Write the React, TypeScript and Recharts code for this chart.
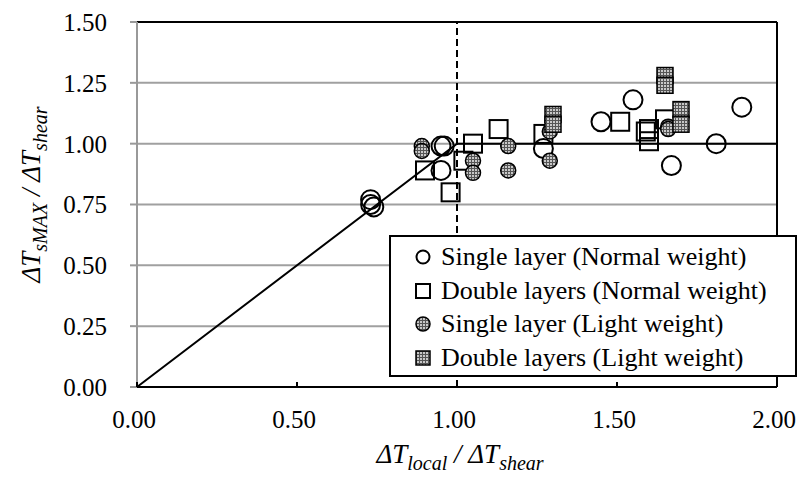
import { ScatterChart, Scatter, XAxis, YAxis, CartesianGrid, ReferenceLine, Legend } from "recharts";

const xTicks = [0, 0.5, 1, 1.5, 2];
const yTicks = [0, 0.25, 0.5, 0.75, 1, 1.25, 1.5];

// Single layer (Normal weight)
const singleNormalX = [0.73, 0.73, 0.74, 0.95, 0.96, 0.95, 1.27, 1.45, 1.55, 1.67, 1.81, 1.89];
const singleNormalY = [0.77, 0.75, 0.74, 0.99, 0.99, 0.89, 0.98, 1.09, 1.18, 0.91, 1.0, 1.15];

// Double layers (Normal weight)
const doubleNormalX = [0.9, 0.98, 1.02, 1.05, 1.13, 1.27, 1.51, 1.59, 1.6, 1.6, 1.65];
const doubleNormalY = [0.89, 0.8, 0.93, 1.0, 1.06, 1.04, 1.09, 1.05, 1.06, 1.01, 1.1];

// Single layer (Light weight)
const singleLightX = [0.89, 0.89, 1.05, 1.05, 1.16, 1.16, 1.29, 1.29, 1.66, 1.66];
const singleLightY = [0.99, 0.97, 0.93, 0.88, 0.99, 0.89, 1.05, 0.93, 1.07, 1.06];

// Double layers (Light weight)
const doubleLightX = [1.3, 1.3, 1.65, 1.65, 1.7, 1.7];
const doubleLightY = [1.12, 1.08, 1.28, 1.24, 1.14, 1.08];

// limit line: y = x up to 1, then flat at 1
const boundX = [0, 1, 2];
const boundY = [0, 1, 1];

const zip = (xs: number[], ys: number[]) => xs.map((x, i) => ({ x, y: ys[i] }));

const FONT = '"Liberation Serif", "Times New Roman", serif';

function OpenCircle({ cx, cy, r = 9.5 }: any) {
  return <circle cx={cx} cy={cy} r={r} fill="none" stroke="#000" strokeWidth={2} />;
}
function OpenSquare({ cx, cy, s = 18 }: any) {
  return <rect x={cx - s / 2} y={cy - s / 2} width={s} height={s} fill="none" stroke="#000" strokeWidth={2} />;
}
function FilledCircle({ cx, cy, r = 7.5 }: any) {
  return <circle cx={cx} cy={cy} r={r} fill="url(#lightFill)" stroke="#000" strokeWidth={1.5} />;
}
function FilledSquare({ cx, cy, s = 16 }: any) {
  return <rect x={cx - s / 2} y={cy - s / 2} width={s} height={s} fill="url(#lightFill)" stroke="#000" strokeWidth={1.5} />;
}

const SERIES = [
  { name: "Single layer (Normal weight)", data: zip(singleNormalX, singleNormalY), Mark: OpenCircle, icon: { r: 6.5, s: 13 } },
  { name: "Double layers (Normal weight)", data: zip(doubleNormalX, doubleNormalY), Mark: OpenSquare, icon: { r: 6.5, s: 14 } },
  { name: "Single layer (Light weight)", data: zip(singleLightX, singleLightY), Mark: FilledCircle, icon: { r: 7, s: 14 } },
  { name: "Double layers (Light weight)", data: zip(doubleLightX, doubleLightY), Mark: FilledSquare, icon: { r: 7, s: 14 } },
];

function XTick({ x, y, payload }: any) {
  return (
    <g>
      <line x1={x} y1={y} x2={x} y2={y - 5} stroke="#000" strokeWidth={2} />
      <text x={x - 3} y={y + 41} textAnchor="middle" fontSize={25} fontFamily={FONT} fill="#000">
        {Number(payload.value).toFixed(2)}
      </text>
    </g>
  );
}

function XTitle({ viewBox }: any) {
  const cx = viewBox ? viewBox.x + viewBox.width / 2 + 3 : 460;
  const y = viewBox ? viewBox.y + 76 : 463;
  return (
    <text x={cx} y={y} textAnchor="middle" fontFamily={FONT} fontStyle="italic" fontSize={27} fill="#000">
      ΔT
      <tspan dy={7} fontSize={20}>local</tspan>
      <tspan dy={-7}> / ΔT</tspan>
      <tspan dy={7} fontSize={20}>shear</tspan>
    </text>
  );
}

function YTitle({ viewBox }: any) {
  const x = viewBox ? viewBox.x + 40 : 40;
  const cy = viewBox ? viewBox.y + viewBox.height / 2 - 10 : 194;
  return (
    <text
      x={x}
      y={cy}
      transform={`rotate(-90 ${x} ${cy})`}
      textAnchor="middle"
      fontFamily={FONT}
      fontStyle="italic"
      fontSize={27}
      fill="#000"
    >
      ΔT
      <tspan dy={7} fontSize={20}>sMAX</tspan>
      <tspan dy={-7}> / ΔT</tspan>
      <tspan dy={7} fontSize={20}>shear</tspan>
    </text>
  );
}

function LegendBox() {
  return (
    <div
      style={{
        boxSizing: "border-box",
        width: 408,
        height: 142,
        border: "2px solid #000",
        background: "#fff",
        paddingTop: 3,
        fontFamily: FONT,
        fontSize: 26,
        color: "#000",
      }}
    >
      {SERIES.map(({ name, Mark, icon }) => (
        <div key={name} style={{ display: "flex", alignItems: "center", height: 33.7 }}>
          <svg width={20} height={20} style={{ marginLeft: 22, marginRight: 8, flex: "none" }}>
            <Mark cx={10} cy={10} r={icon.r} s={icon.s} />
          </svg>
          <span style={{ lineHeight: "30px", whiteSpace: "nowrap" }}>{name}</span>
        </div>
      ))}
    </div>
  );
}

export default function App() {
  return (
    <div style={{ position: "absolute", left: 0, top: 0, width: 799, height: 478, background: "#fff" }}>
      <svg width={0} height={0} style={{ position: "absolute" }}>
        <defs>
          <pattern id="lightFill" width={3} height={3} patternUnits="userSpaceOnUse">
            <rect width={3} height={3} fill="#c8c8c8" />
            <path d="M0 0.5H3M0.5 0V3" stroke="#555" strokeWidth={1} />
          </pattern>
        </defs>
      </svg>
      <ScatterChart width={799} height={478} margin={{ top: 22, right: 22, bottom: 0, left: 0 }}>
        <CartesianGrid vertical={false} stroke="#a0a0a0" strokeWidth={2} />
        <XAxis
          type="number"
          dataKey="x"
          domain={[0, 2]}
          ticks={xTicks}
          interval={0}
          height={91}
          axisLine={{ stroke: "#000", strokeWidth: 2 }}
          tickLine={false}
          tickSize={0}
          tickMargin={0}
          tick={<XTick />}
          label={<XTitle />}
        />
        <YAxis
          type="number"
          dataKey="y"
          domain={[0, 1.5]}
          ticks={yTicks}
          interval={0}
          width={137}
          axisLine={{ stroke: "#999", strokeWidth: 2 }}
          tickLine={{ stroke: "#999", strokeWidth: 2 }}
          tickSize={7}
          tickMargin={23}
          tickFormatter={(v: number) => v.toFixed(2)}
          tick={{ fill: "#000", fontSize: 25, fontFamily: FONT }}
          label={<YTitle />}
        />
        <ReferenceLine y={1.5} stroke="#000" strokeWidth={2} />
        <ReferenceLine x={2} stroke="#000" strokeWidth={2} />
        <ReferenceLine x={1} stroke="#000" strokeWidth={2} strokeDasharray="7 4" />
        <Scatter
          name="limit"
          data={zip(boundX, boundY)}
          line={{ stroke: "#000", strokeWidth: 2 }}
          shape={() => null}
          legendType="none"
          isAnimationActive={false}
        />
        {SERIES.map(({ name, data, Mark }) => (
          <Scatter
            key={name}
            name={name}
            data={data}
            shape={(p: any) => <Mark cx={p.cx} cy={p.cy} />}
            isAnimationActive={false}
          />
        ))}
        <Legend
          layout="vertical"
          align="center"
          verticalAlign="middle"
          content={() => <LegendBox />}
          wrapperStyle={{ left: 389, top: 235, width: 408, height: 142 }}
        />
      </ScatterChart>
    </div>
  );
}
